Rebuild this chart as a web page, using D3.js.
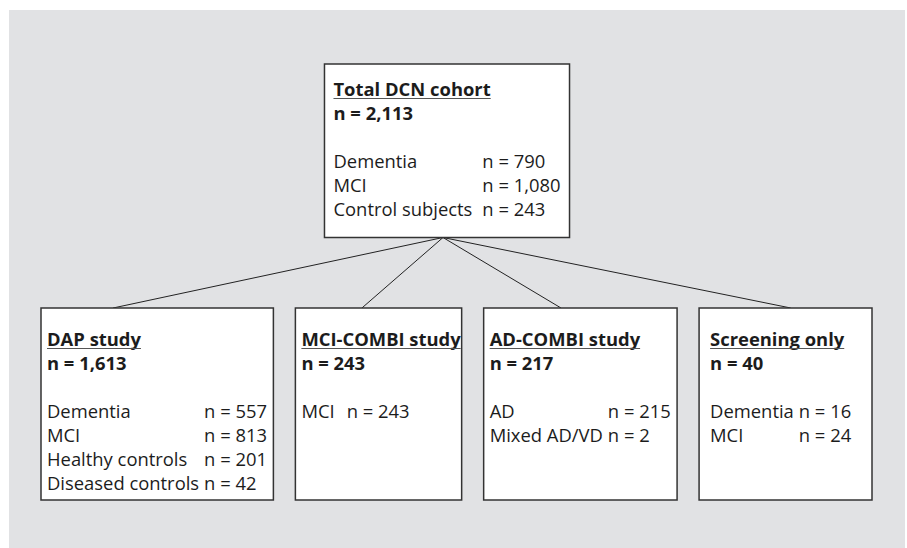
<!DOCTYPE html>
<html>
<head>
<meta charset="utf-8">
<script src="https://cdn.jsdelivr.net/npm/d3@7"></script>
<style>
  html, body { margin: 0; padding: 0; background: #fff; }
  svg { display: block; }
  text { font-family: "Open Sans", "Noto Sans", sans-serif; fill: #1c1c1c; }
</style>
</head>
<body>
<svg id="chart" width="907" height="548"></svg>
<script>
// Cohort flowchart: top node = whole cohort, bottom row = sub-studies.
const studyTitles  = ['Total DCN cohort', 'DAP study', 'MCI-COMBI study', 'AD-COMBI study', 'Screening only'];
const studyTotals  = [2113, 1613, 243, 217, 40];
const groupLabels  = [
  ['Dementia', 'MCI', 'Control subjects'],
  ['Dementia', 'MCI', 'Healthy controls', 'Diseased controls'],
  ['MCI'],
  ['AD', 'Mixed AD/VD'],
  ['Dementia', 'MCI'],
];
const groupCounts  = [
  [790, 1080, 243],
  [557, 813, 201, 42],
  [243],
  [215, 2],
  [16, 24],
];

// Layout (pixels)
const W = 907, H = 548;
const FONT = 18.4;
const LINE = 24;
const rowSpan = [41, 872];        // horizontal extent of bottom row
const rowGap = 22;
const topCenterX = 447;
const topBoxTop = 64, topFirstBase = 32, topBottomPad = 21.5;
const subBoxTop = 308, subFirstBase = 38, subBoxBottom = 500;
const padLeft  = [6, 6, 6, 11];   // inner padding of each sub box
const padRight = [12, 5, 11, 25];
const anchorFrac = [0.31, 0.40, 0.40, 0.53]; // where connectors meet each sub box

const fmt = d3.format(',');
const svg = d3.select('#chart');

svg.append('rect')
  .attr('x', 9).attr('y', 10)
  .attr('width', W - 11).attr('height', H)
  .attr('fill', '#e1e2e4');

// measure text widths
const probe = svg.append('text').attr('font-size', FONT).attr('visibility', 'hidden');
function textW(s, bold) {
  probe.attr('font-weight', bold ? 700 : 400).text(s);
  return probe.node().getComputedTextLength();
}

const nodes = studyTitles.map((title, i) => {
  const labels = groupLabels[i];
  const values = groupCounts[i].map(v => 'n = ' + fmt(v));
  const labelW = d3.max(labels, s => textW(s));
  const gap = i === 2 ? 12 : (i === 0 ? 10 : 5);
  const valueX = labelW + gap;
  const content = Math.max(
    textW(title, true),
    textW('n = ' + fmt(studyTotals[i]), true),
    valueX + d3.max(values, s => textW(s))
  );
  return { i, title, total: 'n = ' + fmt(studyTotals[i]), labels, values, valueX, content };
});
probe.remove();

// top box
const rootNode = nodes[0];
rootNode.w = rootNode.content + 18;
rootNode.x = topCenterX - rootNode.w / 2;
rootNode.y = topBoxTop;
rootNode.base = topBoxTop + topFirstBase;
rootNode.h = topFirstBase + LINE * (2 + rootNode.labels.length) + topBottomPad;
rootNode.pad = 9;

// bottom row: widths from content, stretched to fill rowSpan
const subs = nodes.slice(1);
const raw = subs.map((d, k) => d.content + padLeft[k] + padRight[k]);
const free = (rowSpan[1] - rowSpan[0]) - rowGap * (subs.length - 1);
const wScale = d3.scaleLinear().domain([0, d3.sum(raw)]).range([0, free]);
let cursor = rowSpan[0];
subs.forEach((d, k) => {
  d.w = wScale(raw[k]);
  d.x = cursor;
  cursor += d.w + rowGap;
  d.y = subBoxTop;
  d.h = subBoxBottom - subBoxTop;
  d.base = subBoxTop + subFirstBase;
  d.pad = padLeft[k];
  d.anchor = d.x + anchorFrac[k] * d.w;
});

// connectors
const hub = [rootNode.x + rootNode.w / 2 - 4, rootNode.y + rootNode.h];
svg.append('g').selectAll('line')
  .data(subs)
  .join('line')
  .attr('x1', hub[0]).attr('y1', hub[1])
  .attr('x2', d => d.anchor).attr('y2', d => d.y)
  .attr('stroke', '#222')
  .attr('stroke-width', 1);

// boxes
const g = svg.append('g').selectAll('g')
  .data(nodes)
  .join('g');

g.append('rect')
  .attr('x', d => d.x).attr('y', d => d.y)
  .attr('width', d => d.w).attr('height', d => d.h)
  .attr('fill', '#fff')
  .attr('stroke', '#333')
  .attr('stroke-width', 1.5);

// title (bold, underlined)
g.append('text')
  .attr('class', 'title')
  .attr('x', d => d.x + d.pad).attr('y', d => d.base)
  .attr('font-size', FONT).attr('font-weight', 700)
  .text(d => d.title)
  .each(function (d) { d.titleW = this.getComputedTextLength(); });

g.append('line')
  .attr('x1', d => d.x + d.pad).attr('x2', d => d.x + d.pad + d.titleW)
  .attr('y1', d => d.base + 2.5).attr('y2', d => d.base + 2.5)
  .attr('stroke', '#555').attr('stroke-width', 1.1);

g.append('text')
  .attr('x', d => d.x + d.pad).attr('y', d => d.base + LINE)
  .attr('font-size', FONT).attr('font-weight', 700)
  .text(d => d.total);

// group rows
g.each(function (d) {
  const rows = d3.select(this).append('g');
  rows.selectAll('text.lab')
    .data(d.labels)
    .join('text')
    .attr('class', 'lab')
    .attr('x', d.x + d.pad)
    .attr('y', (_, j) => d.base + LINE * (3 + j))
    .attr('font-size', FONT)
    .text(s => s);
  rows.selectAll('text.val')
    .data(d.values)
    .join('text')
    .attr('class', 'val')
    .attr('x', d.x + d.pad + d.valueX)
    .attr('y', (_, j) => d.base + LINE * (3 + j))
    .attr('font-size', FONT)
    .text(s => s);
});
</script>
</body>
</html>
